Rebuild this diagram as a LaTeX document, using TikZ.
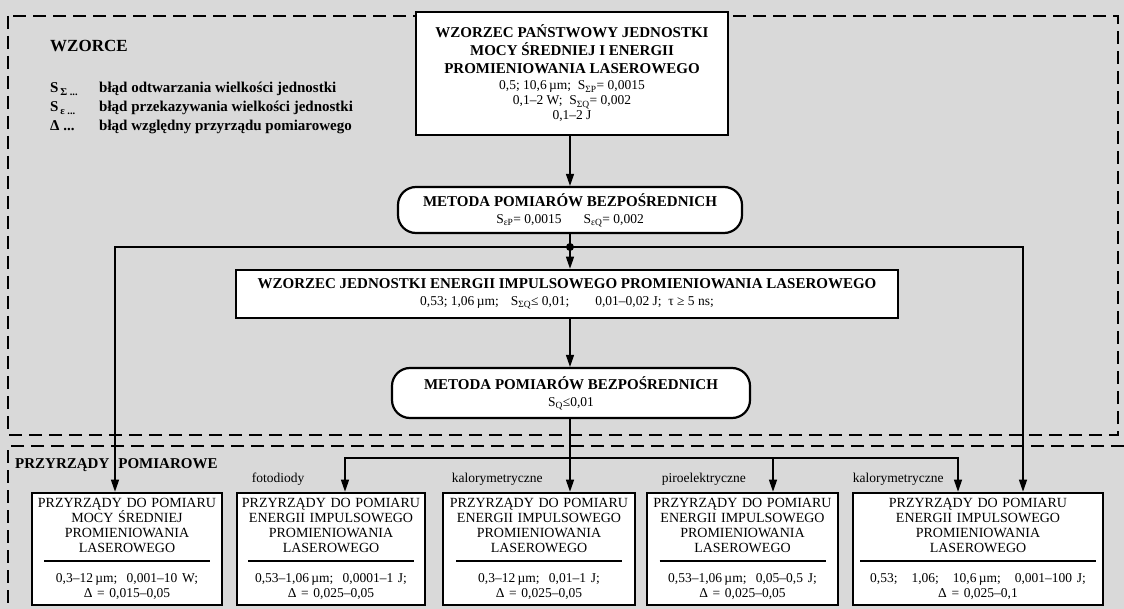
\documentclass[tikz,border=0pt]{standalone}
\usepackage{fontspec}
\setmainfont{Liberation Serif}
\usetikzlibrary{positioning,calc,arrows.meta}

\newcommand{\tyt}[1]{{\fontsize{15}{18}\selectfont\bfseries #1}}
\newcommand{\liczby}[1]{{\fontsize{13.5}{15}\selectfont #1}}

\begin{document}
\begin{tikzpicture}[x=1pt, y=-1pt,
    ramka/.style={line width=2.6pt, dash pattern=on 13pt off 7pt},
    blok/.style={draw, line width=2.6pt, fill=white, align=center, inner sep=0pt},
    metoda/.style={blok, line width=2.2pt, rounded corners=18pt},
    przyrzad/.style={blok, minimum height=112, font=\fontsize{14}{15}\selectfont},
    strz/.style={-{Triangle[length=12pt, width=8pt]}, line width=1.3pt},
    linia/.style={line width=1.3pt},
    opis/.style={font=\fontsize{13.5}{15}\selectfont, anchor=base west, inner sep=0pt},
    legenda/.style={font=\fontsize{15}{18}\selectfont\bfseries, anchor=base west, inner sep=0pt}]

    \fill[black!15] (0,0) rectangle (1124,609);
    \useasboundingbox (0,0) rectangle (1124,609);

    % obszary
    \draw[ramka] (8,16) rectangle (1118,435);
    \draw[ramka] (1124,446) -- (8,446) -- (8,609);

    % legenda
    \node[legenda, font=\fontsize{17}{20}\selectfont\bfseries] (wz) at (50,52) {WZORCE};
    \node[legenda] (s1) at (50,93) {S\textsubscript{\,Σ ...}};
    \node[legenda] (s2) at (50,112) {S\textsubscript{\,ε ...}};
    \node[legenda] (s3) at (50,131) {Δ ...};
    \node[legenda] (l1) at (99,93) {błąd odtwarzania wielkości jednostki};
    \node[legenda] (l2) at (99,112) {błąd przekazywania wielkości jednostki};
    \node[legenda] (l3) at (99,131) {błąd względny przyrządu pomiarowego};

    % wzorce
    \node[blok, minimum width=312, minimum height=123, font=\fontsize{13.5}{15}\selectfont] (std) at (572,73.5)
        {\tyt{WZORZEC PAŃSTWOWY JEDNOSTKI}\\[3pt]
         \tyt{MOCY ŚREDNIEJ I ENERGII}\\[3pt]
         \tyt{PROMIENIOWANIA LASEROWEGO}\\[1pt]
         0,5; 10,6\,µm;\ \ S\textsubscript{ΣP}= 0,0015\\
         0,1–2 W;\ \ S\textsubscript{ΣQ}= 0,002\\
         0,1–2 J};
    \node[metoda, minimum width=344, minimum height=46, font=\fontsize{13.5}{15}\selectfont] (met1) at (570,210)
        {\tyt{METODA POMIARÓW BEZPOŚREDNICH}\\[2pt]
         S\textsubscript{εP}= 0,0015\hspace{22pt}S\textsubscript{εQ}= 0,002};
    \node[blok, minimum width=662, minimum height=48, font=\fontsize{13.5}{15}\selectfont] (wzi) at (567,294)
        {\tyt{WZORZEC JEDNOSTKI ENERGII IMPULSOWEGO PROMIENIOWANIA LASEROWEGO}\\[2pt]
         0,53; 1,06\,µm;\hspace{12pt}S\textsubscript{ΣQ}≤ 0,01;\hspace{26pt}0,01–0,02 J;\ \ τ ≥ 5 ns;};
    \node[metoda, minimum width=358, minimum height=50, font=\fontsize{13.5}{15}\selectfont] (met2) at (571,393)
        {\tyt{METODA POMIARÓW BEZPOŚREDNICH}\\[2pt]
         S\textsubscript{Q}≤0,01};

    % przyrzady
    \node[legenda] (prz) at (15,468) {PRZYRZĄDY\hspace{9pt}POMIAROWE};
    \node[przyrzad, minimum width=190, text width=186] (b1) at (127,549)
        {PRZYRZĄDY DO POMIARU\\ MOCY ŚREDNIEJ\\ PROMIENIOWANIA\\ LASEROWEGO\\[-6pt]
         \rule{166pt}{1.3pt}\\[6pt]
         \liczby{0,3–12\,µm;\ \ 0,001–10 W;}\\ \liczby{Δ = 0,015–0,05}};
    \node[przyrzad, minimum width=188, text width=186] (b2) at (331,549)
        {PRZYRZĄDY DO POMIARU\\ ENERGII IMPULSOWEGO\\ PROMIENIOWANIA\\ LASEROWEGO\\[-6pt]
         \rule{166pt}{1.3pt}\\[6pt]
         \liczby{0,53–1,06\,µm;\ \ 0,0001–1 J;}\\ \liczby{Δ = 0,025–0,05}};
    \node[przyrzad, minimum width=192, text width=186] (b3) at (539,549)
        {PRZYRZĄDY DO POMIARU\\ ENERGII IMPULSOWEGO\\ PROMIENIOWANIA\\ LASEROWEGO\\[-6pt]
         \rule{166pt}{1.3pt}\\[6pt]
         \liczby{0,3–12\,µm;\ \ 0,01–1 J;}\\ \liczby{Δ = 0,025–0,05}};
    \node[przyrzad, minimum width=191, text width=186] (b4) at (742.5,549)
        {PRZYRZĄDY DO POMIARU\\ ENERGII IMPULSOWEGO\\ PROMIENIOWANIA\\ LASEROWEGO\\[-6pt]
         \rule{166pt}{1.3pt}\\[6pt]
         \liczby{0,53–1,06\,µm;\ \ 0,05–0,5 J;}\\ \liczby{Δ = 0,025–0,05}};
    \node[przyrzad, minimum width=250, text width=244] (b5) at (978,549)
        {PRZYRZĄDY DO POMIARU\\ ENERGII IMPULSOWEGO\\ PROMIENIOWANIA\\ LASEROWEGO\\[-6pt]
         \rule{236pt}{1.3pt}\\[6pt]
         \liczby{0,53;\ \ \ 1,06;\ \ \ 10,6\,µm;\ \ \ 0,001–100 J;}\\ \liczby{Δ = 0,025–0,1}};

    \node[opis] (o2) at ([xshift=16pt, yshift=9pt]b2.north west) {fotodiody};
    \node[opis] (o3) at ([xshift=10pt, yshift=9pt]b3.north west) {kalorymetryczne};
    \node[opis] (o4) at ([xshift=16pt, yshift=9pt]b4.north west) {piroelektryczne};
    \node[opis] (o5) at ([xshift=1pt, yshift=9pt]b5.north west) {kalorymetryczne};

    % polaczenia
    \coordinate (wezel) at (570,247);
    \coordinate (rozg) at (570,458);
    \draw[strz] (std.south -| wezel) -- (met1.north -| wezel);
    \draw[linia] (met1.south -| wezel) -- (wezel);
    \fill (wezel) circle (4pt);
    \draw[strz] (wezel) -- (wzi.north -| wezel);
    \draw[strz] (wezel) -| ([xshift=-12pt]b1.north);
    \draw[strz] (wezel) -| ([xshift=45pt]b5.north);
    \draw[strz] (wzi.south -| wezel) -- (met2.north -| wezel);
    \draw[linia] (met2.south -| rozg) -- (rozg);
    \draw[strz] (rozg) -- (b3.north -| rozg);
    \draw[strz] (rozg) -| ([xshift=14pt]b2.north);
    \draw[strz] (rozg) -| ([xshift=30.5pt]b4.north);
    \draw[strz] (rozg) -| ([xshift=-20pt]b5.north);
\end{tikzpicture}
\end{document}
